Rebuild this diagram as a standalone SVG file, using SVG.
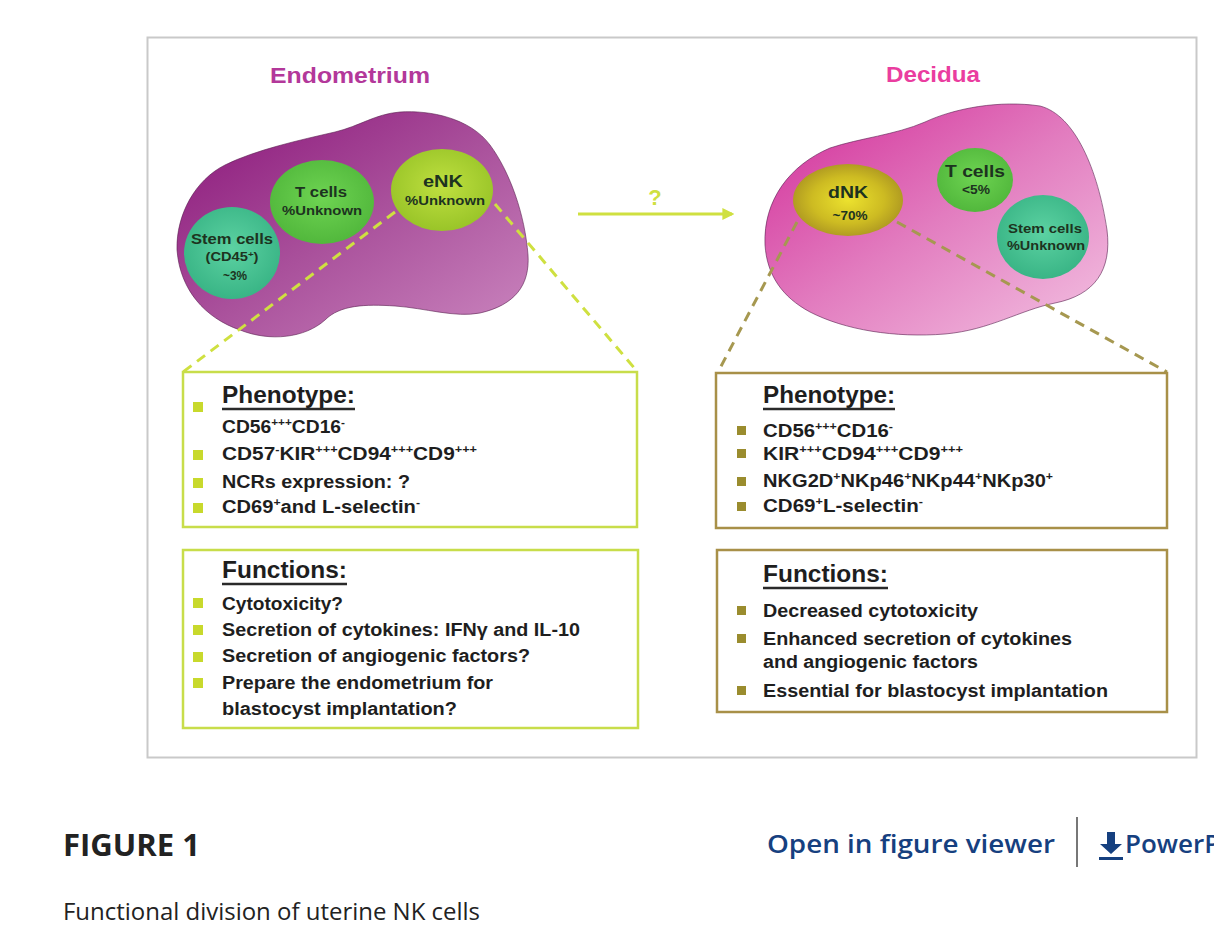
<svg xmlns="http://www.w3.org/2000/svg" width="1214" height="938" viewBox="0 0 1214 938">
<defs>
<linearGradient id="gLeftBlob" x1="0" y1="0" x2="1" y2="1">
<stop offset="0" stop-color="#8a1479"/>
<stop offset="0.5" stop-color="#a9509b"/>
<stop offset="1" stop-color="#cb86bf"/>
</linearGradient>
<linearGradient id="gRightBlob" x1="0" y1="0" x2="1" y2="1">
<stop offset="0" stop-color="#d22c98"/>
<stop offset="0.5" stop-color="#e27cbf"/>
<stop offset="1" stop-color="#f3c2e2"/>
</linearGradient>
<radialGradient id="gStem" cx="0.5" cy="0.45" r="0.6">
<stop offset="0" stop-color="#5cd2a2"/>
<stop offset="1" stop-color="#36b283"/>
</radialGradient>
<radialGradient id="gT" cx="0.5" cy="0.45" r="0.6">
<stop offset="0" stop-color="#6ed452"/>
<stop offset="1" stop-color="#4fb53a"/>
</radialGradient>
<radialGradient id="gENK" cx="0.5" cy="0.45" r="0.6">
<stop offset="0" stop-color="#bfe040"/>
<stop offset="1" stop-color="#96c226"/>
</radialGradient>
<radialGradient id="gDNK" cx="0.5" cy="0.5" r="0.55">
<stop offset="0" stop-color="#ece22e"/>
<stop offset="0.6" stop-color="#cdbb22"/>
<stop offset="1" stop-color="#a99321"/>
</radialGradient>
<marker id="arr" viewBox="0 0 10 10" refX="8" refY="5" markerWidth="4" markerHeight="4" orient="auto">
<path d="M0,0 L10,5 L0,10 z" fill="#cfe040"/>
</marker>
<style>
.bt{font-family:"Liberation Sans",Arial,sans-serif;font-weight:bold;fill:#1e1e1e;font-size:18px}
.hd{font-family:"Liberation Sans",Arial,sans-serif;font-weight:bold;fill:#1e1e1e;font-size:24px}
.ct{font-family:"Liberation Sans",Arial,sans-serif;font-weight:bold;fill:#1d3320;text-anchor:middle}
.sup{font-size:11px}
.ul{stroke:#2a2a2a;stroke-width:2.5}
.bl{fill:#c8d92c}
.br{fill:#9a8c2e}
.boxL{fill:#fff;stroke:#c8dd4a;stroke-width:2.5}
.boxR{fill:#fff;stroke:#a89048;stroke-width:2.5}
.dashL{stroke:#cfe040;stroke-width:3;stroke-dasharray:10 7;fill:none}
.dashR{stroke:#a69850;stroke-width:3;stroke-dasharray:10 7;fill:none}
.blobline{stroke:#5a2050;stroke-width:1;stroke-opacity:0.6}
</style>
</defs>
<rect width="1214" height="938" fill="#fff"/>
<rect x="147.5" y="37.5" width="1049" height="720" fill="#fff" stroke="#c9c9c9" stroke-width="2"/>

<g id="title-endometrium">
<text x="270" y="83" font-family="Liberation Sans,Arial,sans-serif" font-weight="bold" font-size="22" fill="#b3389a" textLength="160" lengthAdjust="spacingAndGlyphs">Endometrium</text>
</g>
<g id="title-decidua">
<text x="886" y="82" font-family="Liberation Sans,Arial,sans-serif" font-weight="bold" font-size="22" fill="#ea3d9f" textLength="94" lengthAdjust="spacingAndGlyphs">Decidua</text>
</g>

<g id="endometrium-blob">
<path class="blobline" fill="url(#gLeftBlob)" d="M177,250 C176,215 195,180 225,165 C255,150 300,140 335,132 C360,126 375,114 400,112 C430,110 470,118 490,145 C510,172 525,215 528,255 C530,285 515,305 480,313 C455,318 425,308 395,306 C365,304 340,305 325,320 C305,338 270,342 240,330 C205,318 180,290 177,250 Z"/>
</g>
<g id="decidua-blob">
<path class="blobline" fill="url(#gRightBlob)" d="M765,245 C763,200 790,165 830,148 C860,138 895,135 925,122 C955,108 1000,100 1040,106 C1075,115 1098,170 1107,230 C1112,270 1095,295 1055,303 C1020,310 990,330 945,334 C895,338 845,330 810,312 C782,297 767,275 765,245 Z"/>
</g>

<g id="e-stem">
<ellipse cx="232" cy="253" rx="48" ry="46" fill="url(#gStem)"/>
<text class="ct" x="232" y="244" font-size="14" textLength="82" lengthAdjust="spacingAndGlyphs">Stem cells</text>
<text class="ct" x="232" y="261" font-size="12" textLength="53" lengthAdjust="spacingAndGlyphs">(CD45<tspan dy="-4" font-size="8">+</tspan><tspan dy="4">)</tspan></text>
<text class="ct" x="235" y="280" font-size="12" textLength="24" lengthAdjust="spacingAndGlyphs">~3%</text>
</g>
<g id="e-tcells">
<ellipse cx="322" cy="202" rx="52" ry="42" fill="url(#gT)"/>
<text class="ct" x="321" y="197" font-size="14" textLength="52" lengthAdjust="spacingAndGlyphs">T cells</text>
<text class="ct" x="322" y="215" font-size="12" textLength="80" lengthAdjust="spacingAndGlyphs">%Unknown</text>
</g>

<g id="connectors">
<line class="dashL" x1="395" y1="212" x2="183" y2="372"/>
<line class="dashL" x1="495" y1="204" x2="636" y2="370"/>
<line class="dashR" x1="797" y1="222" x2="718" y2="372"/>
<line class="dashR" x1="897" y1="222" x2="1167" y2="372"/>
<line x1="578" y1="214" x2="732" y2="214" stroke="#cfe040" stroke-width="3" marker-end="url(#arr)"/>
<text x="655" y="205" text-anchor="middle" font-family="Liberation Sans,Arial,sans-serif" font-weight="bold" font-size="22" fill="#cfe040">?</text>
</g>

<g id="e-enk">
<ellipse cx="442" cy="190" rx="51" ry="41" fill="url(#gENK)"/>
<text class="ct" x="443" y="187" font-size="16" textLength="40" lengthAdjust="spacingAndGlyphs">eNK</text>
<text class="ct" x="445" y="205" font-size="12" textLength="80" lengthAdjust="spacingAndGlyphs">%Unknown</text>
</g>

<g id="d-dnk">
<ellipse cx="848" cy="200" rx="55" ry="36" fill="url(#gDNK)"/>
<text class="ct" x="848" y="198" font-size="17" textLength="40" lengthAdjust="spacingAndGlyphs">dNK</text>
<text class="ct" x="850" y="220" font-size="13" textLength="35" lengthAdjust="spacingAndGlyphs">~70%</text>
</g>
<g id="d-tcells">
<ellipse cx="975" cy="180" rx="38" ry="32" fill="url(#gT)"/>
<text class="ct" x="975" y="177" font-size="17" textLength="60" lengthAdjust="spacingAndGlyphs">T cells</text>
<text class="ct" x="976" y="194" font-size="12" textLength="28" lengthAdjust="spacingAndGlyphs">&lt;5%</text>
</g>
<g id="d-stem">
<ellipse cx="1043" cy="237" rx="46" ry="42" fill="url(#gStem)"/>
<text class="ct" x="1045" y="233" font-size="13" textLength="74" lengthAdjust="spacingAndGlyphs">Stem cells</text>
<text class="ct" x="1046" y="250" font-size="13" textLength="78" lengthAdjust="spacingAndGlyphs">%Unknown</text>
</g>

<g id="e-phenotype">
<rect class="boxL" x="183" y="372" width="454" height="155"/>
<text class="hd" x="222" y="403" textLength="133" lengthAdjust="spacingAndGlyphs">Phenotype:</text>
<line class="ul" x1="222" y1="409" x2="355" y2="409"/>
<rect class="bl" x="193" y="402" width="10" height="10"/>
<text class="bt" x="222" y="433" textLength="123" lengthAdjust="spacingAndGlyphs">CD56<tspan class="sup" dy="-7">+++</tspan><tspan dy="7">CD16</tspan><tspan class="sup" dy="-7">-</tspan></text>
<rect class="bl" x="193" y="450" width="10" height="10"/>
<text class="bt" x="222" y="460" textLength="255" lengthAdjust="spacingAndGlyphs">CD57<tspan class="sup" dy="-7">-</tspan><tspan dy="7">KIR</tspan><tspan class="sup" dy="-7">+++</tspan><tspan dy="7">CD94</tspan><tspan class="sup" dy="-7">+++</tspan><tspan dy="7">CD9</tspan><tspan class="sup" dy="-7">+++</tspan></text>
<rect class="bl" x="193" y="478" width="10" height="10"/>
<text class="bt" x="222" y="488" textLength="188" lengthAdjust="spacingAndGlyphs">NCRs expression: ?</text>
<rect class="bl" x="193" y="503" width="10" height="10"/>
<text class="bt" x="222" y="513" textLength="198" lengthAdjust="spacingAndGlyphs">CD69<tspan class="sup" dy="-7">+</tspan><tspan dy="7">and L-selectin</tspan><tspan class="sup" dy="-7">-</tspan></text>
</g>

<g id="e-functions">
<rect class="boxL" x="183" y="550" width="455" height="178"/>
<text class="hd" x="222" y="578" textLength="125" lengthAdjust="spacingAndGlyphs">Functions:</text>
<line class="ul" x1="222" y1="584" x2="347" y2="584"/>
<rect class="bl" x="193" y="598" width="10" height="10"/>
<text class="bt" x="222" y="610" textLength="121" lengthAdjust="spacingAndGlyphs">Cytotoxicity?</text>
<rect class="bl" x="193" y="625" width="10" height="10"/>
<text class="bt" x="222" y="636" textLength="358" lengthAdjust="spacingAndGlyphs">Secretion of cytokines: IFNγ and IL-10</text>
<rect class="bl" x="193" y="652" width="10" height="10"/>
<text class="bt" x="222" y="662" textLength="308" lengthAdjust="spacingAndGlyphs">Secretion of angiogenic factors?</text>
<rect class="bl" x="193" y="678" width="10" height="10"/>
<text class="bt" x="222" y="689" textLength="271" lengthAdjust="spacingAndGlyphs">Prepare the endometrium for</text>
<text class="bt" x="222" y="715" textLength="235" lengthAdjust="spacingAndGlyphs">blastocyst implantation?</text>
</g>

<g id="d-phenotype">
<rect class="boxR" x="716" y="373" width="451" height="155"/>
<text class="hd" x="763" y="403" textLength="132" lengthAdjust="spacingAndGlyphs">Phenotype:</text>
<line class="ul" x1="763" y1="409" x2="895" y2="409"/>
<rect class="br" x="737" y="426" width="9" height="9"/>
<text class="bt" x="763" y="437" textLength="130" lengthAdjust="spacingAndGlyphs">CD56<tspan class="sup" dy="-7">+++</tspan><tspan dy="7">CD16</tspan><tspan class="sup" dy="-7">-</tspan></text>
<rect class="br" x="737" y="449" width="9" height="9"/>
<text class="bt" x="763" y="460" textLength="200" lengthAdjust="spacingAndGlyphs">KIR<tspan class="sup" dy="-7">+++</tspan><tspan dy="7">CD94</tspan><tspan class="sup" dy="-7">+++</tspan><tspan dy="7">CD9</tspan><tspan class="sup" dy="-7">+++</tspan></text>
<rect class="br" x="737" y="477" width="9" height="9"/>
<text class="bt" x="763" y="487" textLength="290" lengthAdjust="spacingAndGlyphs">NKG2D<tspan class="sup" dy="-7">+</tspan><tspan dy="7">NKp46</tspan><tspan class="sup" dy="-7">+</tspan><tspan dy="7">NKp44</tspan><tspan class="sup" dy="-7">+</tspan><tspan dy="7">NKp30</tspan><tspan class="sup" dy="-7">+</tspan></text>
<rect class="br" x="737" y="502" width="9" height="9"/>
<text class="bt" x="763" y="512" textLength="160" lengthAdjust="spacingAndGlyphs">CD69<tspan class="sup" dy="-7">+</tspan><tspan dy="7">L-selectin</tspan><tspan class="sup" dy="-7">-</tspan></text>
</g>

<g id="d-functions">
<rect class="boxR" x="717" y="550" width="450" height="162"/>
<text class="hd" x="763" y="582" textLength="125" lengthAdjust="spacingAndGlyphs">Functions:</text>
<line class="ul" x1="763" y1="588" x2="888" y2="588"/>
<rect class="br" x="737" y="606" width="9" height="9"/>
<text class="bt" x="763" y="617" textLength="215" lengthAdjust="spacingAndGlyphs">Decreased cytotoxicity</text>
<rect class="br" x="737" y="634" width="9" height="9"/>
<text class="bt" x="763" y="645" textLength="309" lengthAdjust="spacingAndGlyphs">Enhanced secretion of cytokines</text>
<text class="bt" x="763" y="668" textLength="215" lengthAdjust="spacingAndGlyphs">and angiogenic factors</text>
<rect class="br" x="737" y="686" width="9" height="9"/>
<text class="bt" x="763" y="697" textLength="345" lengthAdjust="spacingAndGlyphs">Essential for blastocyst implantation</text>
</g>

<g id="caption">
<text x="63" y="856" font-family="Open Sans,Liberation Sans,sans-serif" font-weight="bold" font-size="30" fill="#222" textLength="137" lengthAdjust="spacingAndGlyphs">FIGURE 1</text>
<text x="63" y="920" font-family="Open Sans,Liberation Sans,sans-serif" font-size="23" fill="#222" textLength="417" lengthAdjust="spacingAndGlyphs">Functional division of uterine NK cells</text>
</g>
<g id="links">
<text x="767" y="853" font-family="Open Sans,Liberation Sans,sans-serif" font-weight="600" font-size="26" fill="#16407f" textLength="288" lengthAdjust="spacingAndGlyphs">Open in figure viewer</text>
<line x1="1077" y1="817" x2="1077" y2="867" stroke="#777" stroke-width="2"/>
<path d="M1107,832 h8 v12 h7 l-11,10 l-11,-10 h7 z" fill="#16407f"/>
<rect x="1099" y="857" width="24" height="3" fill="#16407f"/>
<text x="1125" y="853" font-family="Open Sans,Liberation Sans,sans-serif" font-weight="600" font-size="26" fill="#16407f">PowerPoint</text>
</g>
</svg>
